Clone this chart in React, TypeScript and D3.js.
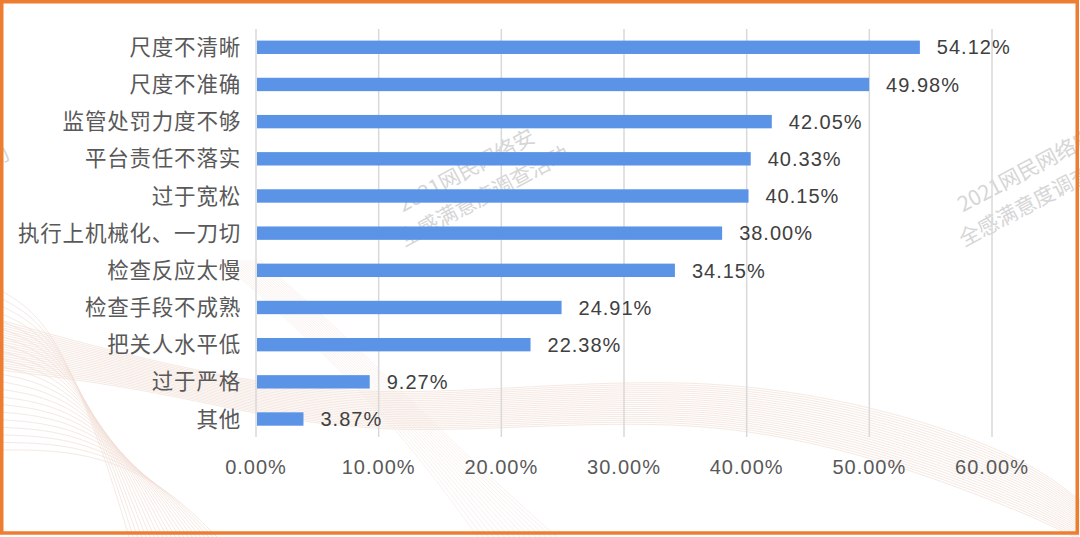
import React from "react";
import * as d3 from "d3";

const categories = [
  "尺度不清晰",
  "尺度不准确",
  "监管处罚力度不够",
  "平台责任不落实",
  "过于宽松",
  "执行上机械化、一刀切",
  "检查反应太慢",
  "检查手段不成熟",
  "把关人水平低",
  "过于严格",
  "其他",
];
const values = [54.12, 49.98, 42.05, 40.33, 40.15, 38.0, 34.15, 24.91, 22.38, 9.27, 3.87];
const ticks = [0, 10, 20, 30, 40, 50, 60];
const watermarkLines = ["2021网民网络安", "全感满意度调查活动"];

const W = 1080;
const H = 537;

export default function App() {
  const x = d3.scaleLinear().domain([0, 60]).range([256, 992]);
  const y = d3.scaleBand<string>().domain(categories).range([28.7, 437.6]).paddingInner(0.64).paddingOuter(0.32);

  const line = d3.line<[number, number]>().curve(d3.curveBasis);

  // decorative background curves
  const deco: string[] = [];
  for (let i = 0; i < 22; i++) {
    const t = i / 21;
    deco.push(
      line([
        [0, 320 + t * 50],
        [160, 365 + t * 25],
        [380, 405 + t * 40],
        [720, 365 + t * 40],
        [1000, 440 + t * 60],
        [1080, 500 + t * 40],
      ]) as string
    );
  }
  const fan: string[] = [];
  for (let i = 0; i < 22; i++) {
    const t = i / 21;
    fan.push(
      line([
        [0, 290 + t * 160],
        [50 + t * 30, 320 + t * 130],
        [100 + t * 60, 440 + t * 40],
        [130 + t * 90, 540],
      ]) as string
    );
  }
  const fan2: string[] = [];
  for (let i = 0; i < 16; i++) {
    const t = i / 15;
    fan2.push(
      line([
        [220 + t * 40, 260],
        [300 + t * 40, 330],
        [400 + t * 60, 430 + t * 20],
        [480 + t * 80, 540],
      ]) as string
    );
  }

  const numFont = "'Liberation Sans', Arial, 'Noto Sans CJK SC', sans-serif";
  const cjkFont = "'Noto Sans CJK SC', 'Liberation Sans', sans-serif";

  return (
    <svg width={W} height={H} style={{ position: "absolute", left: 0, top: 0 }}>
      <rect x={0} y={0} width={W} height={H} fill="#ffffff" />
      <g fill="none" stroke="#e2b9a6" strokeWidth={0.7} opacity={0.45}>
        {deco.map((d, i) => (
          <path key={"d" + i} d={d} />
        ))}
        {fan.map((d, i) => (
          <path key={"f" + i} d={d} />
        ))}
        {fan2.map((d, i) => (
          <path key={"g" + i} d={d} opacity={0.6} />
        ))}
      </g>
      {[-560, 0, 560].map((dx) => (
        <g key={dx} transform={`translate(${404 + dx},247) rotate(-28)`} fill="#d6d6d6" fontFamily={cjkFont} fontSize={21}>
          <text x={15} y={-31}>{watermarkLines[0]}</text>
          <text x={0} y={0}>{watermarkLines[1]}</text>
        </g>
      ))}
      {ticks.map((t) => (
        <line key={t} x1={x(t)} x2={x(t)} y1={29} y2={437} stroke="#d9d9d9" strokeWidth={1.5} />
      ))}
      {categories.map((c, i) => (
        <rect
          key={c}
          x={x(0) + 1}
          y={y(c)!}
          width={x(values[i]) - x(0) - 1}
          height={y.bandwidth()}
          fill="#5b93e6"
        />
      ))}
      {categories.map((c) => (
        <text
          key={"l" + c}
          x={241}
          y={y(c)! + y.bandwidth() / 2}
          dy="0.35em"
          textAnchor="end"
          fontFamily={cjkFont}
          fontSize={21.5}
          letterSpacing={0.8}
          fill="#595959"
        >
          {c}
        </text>
      ))}
      {categories.map((c, i) => (
        <text
          key={"v" + c}
          x={x(values[i]) + 17}
          y={y(c)! + y.bandwidth() / 2}
          dy="0.36em"
          fontFamily={numFont}
          fontSize={20}
          letterSpacing={1}
          fill="#404040"
        >
          {values[i].toFixed(2) + "%"}
        </text>
      ))}
      {ticks.map((t) => (
        <text
          key={"t" + t}
          x={x(t)}
          y={474}
          textAnchor="middle"
          fontFamily={numFont}
          fontSize={20}
          letterSpacing={1}
          fill="#595959"
        >
          {t.toFixed(2) + "%"}
        </text>
      ))}
      <rect x={1.75} y={1.75} width={W - 4.5} height={533 - 1.75} fill="none" stroke="#ed7d31" strokeWidth={3.5} />
    </svg>
  );
}
